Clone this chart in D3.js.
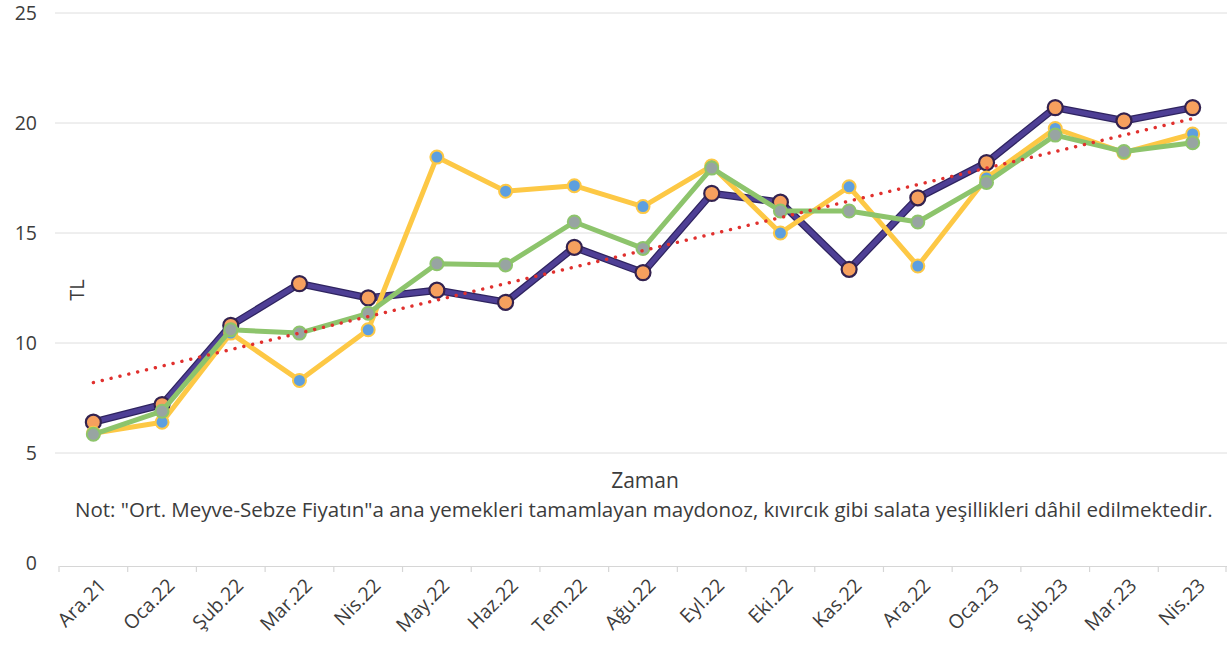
<!DOCTYPE html>
<html>
<head>
<meta charset="utf-8">
<script src="https://cdn.jsdelivr.net/npm/d3@7"></script>
<style>
  html, body { margin: 0; padding: 0; background: #fff; }
  svg { display: block; }
  text { font-family: "Open Sans", "Noto Sans", sans-serif; fill: #3c3c3c; }
</style>
</head>
<body>
<svg id="chart" width="1227" height="645"></svg>
<script>
// ---- data ----
const categories = ["Ara.21","Oca.22","Şub.22","Mar.22","Nis.22","May.22","Haz.22","Tem.22","Ağu.22","Eyl.22","Eki.22","Kas.22","Ara.22","Oca.23","Şub.23","Mar.23","Nis.23"];
const purpleSeries = [6.4, 7.2, 10.8, 12.7, 12.05, 12.4, 11.85, 14.35, 13.2, 16.8, 16.4, 13.35, 16.6, 18.2, 20.7, 20.1, 20.7];
const yellowSeries = [5.9, 6.4, 10.45, 8.3, 10.6, 18.45, 16.9, 17.15, 16.2, 18.05, 15.0, 17.1, 13.5, 17.5, 19.75, 18.65, 19.5];
const greenSeries  = [5.85, 6.9, 10.6, 10.45, 11.35, 13.6, 13.55, 15.5, 14.3, 17.95, 16.0, 16.0, 15.5, 17.3, 19.45, 18.7, 19.1];
const trendEnds = [8.2, 20.2]; // trendline value at first and last category
const yTicks = [0, 5, 10, 15, 20, 25];
const yAxisTitle = "TL";
const xAxisTitle = "Zaman";
const noteText = "Not: \"Ort. Meyve-Sebze Fiyatın\"a ana yemekleri tamamlayan maydonoz, kıvırcık gibi salata yeşillikleri dâhil edilmektedir.";

// ---- layout ----
const svg = d3.select("#chart");
const plotL = 59, plotR = 1227, plotT = 13, plotB = 563;

const x = d3.scaleBand().domain(categories).range([plotL, plotR]).paddingInner(0).paddingOuter(0);
const y = d3.scaleLinear().domain([0, 25]).range([plotB, plotT]);
const cx = c => x(c) + x.bandwidth() / 2;

// gridlines
svg.append("g").selectAll("line").data(yTicks.filter(t => t > 0)).join("line")
  .attr("x1", plotL - 4).attr("x2", plotR)
  .attr("y1", d => y(d)).attr("y2", d => y(d))
  .attr("stroke", "#dedede").attr("stroke-width", 1);

// y tick labels
svg.append("g").selectAll("text").data(yTicks).join("text")
  .attr("x", 37).attr("y", d => y(d)).attr("dy", "0.35em")
  .attr("text-anchor", "end").style("font-size", "19.5px")
  .text(d => d);

// x axis
const xAxis = d3.axisBottom(x).tickSize(0).tickFormat("");
const gx = svg.append("g").attr("transform", `translate(0,${y(0) + 3})`).call(xAxis);
gx.select(".domain").attr("stroke", "#d6d6d6").attr("stroke-width", 1.2);
// boundary tick marks
const bounds = categories.map(c => x(c)).concat([plotR - 1]);
svg.append("g").selectAll("line").data(bounds).join("line")
  .attr("x1", d => d).attr("x2", d => d)
  .attr("y1", y(0) + 3).attr("y2", y(0) + 9)
  .attr("stroke", "#d6d6d6").attr("stroke-width", 1.2);

// x tick labels rotated
svg.append("g").selectAll("text").data(categories).join("text")
  .attr("transform", d => `translate(${cx(d) + 9},${y(0) + 19}) rotate(-45)`)
  .attr("text-anchor", "end").attr("dy", "0.35em")
  .style("font-size", "19.5px")
  .text(d => d);

// axis titles
svg.append("text")
  .attr("transform", `translate(77,290) rotate(-90)`)
  .attr("text-anchor", "middle").attr("dy", "0.35em")
  .style("font-size", "20px").text(yAxisTitle);

svg.append("text").attr("x", 645).attr("y", 488)
  .attr("text-anchor", "middle").style("font-size", "21px").text(xAxisTitle);

const note = svg.append("text").attr("x", 75).attr("y", 517)
  .style("font-size", "17px").text(noteText);
// fit the note to the reference width
const targetW = 1138;
const w = note.node().getComputedTextLength();
note.style("font-size", (17 * targetW / w).toFixed(2) + "px");

// ---- series ----
const line = d3.line().x((d, i) => cx(categories[i])).y(d => y(d));

function drawSeries(values, lineColor, lineWidth, markerFill, markerStroke, r, markerStrokeW) {
  const g = svg.append("g");
  g.append("path").datum(values).attr("d", line)
    .attr("fill", "none").attr("stroke", lineColor).attr("stroke-width", lineWidth)
    .attr("stroke-linejoin", "round");
  g.selectAll("circle").data(values).join("circle")
    .attr("cx", (d, i) => cx(categories[i])).attr("cy", d => y(d)).attr("r", r)
    .attr("fill", markerFill).attr("stroke", markerStroke).attr("stroke-width", markerStrokeW);
}

// purple line with darker edge
svg.append("path").datum(purpleSeries).attr("d", line)
  .attr("fill", "none").attr("stroke", "#2f2460").attr("stroke-width", 7.5).attr("stroke-linejoin", "round");
drawSeries(purpleSeries, "#4e3f95", 5, "#f6a05e", "#33224f", 7.5, 2.2);
drawSeries(yellowSeries, "#fdc845", 5, "#5d9fe0", "#fdc845", 6.5, 2);
drawSeries(greenSeries, "#8dc46c", 5, "#98a4a2", "#8dc46c", 6.5, 2);

// trend line (dotted)
const first = categories[0], last = categories[categories.length - 1];
svg.append("line")
  .attr("x1", cx(first)).attr("y1", y(trendEnds[0]))
  .attr("x2", cx(last)).attr("y2", y(trendEnds[1]))
  .attr("stroke", "#e0302e").attr("stroke-width", 3.4)
  .attr("stroke-linecap", "round").attr("stroke-dasharray", "0.1 9");
</script>
</body>
</html>
